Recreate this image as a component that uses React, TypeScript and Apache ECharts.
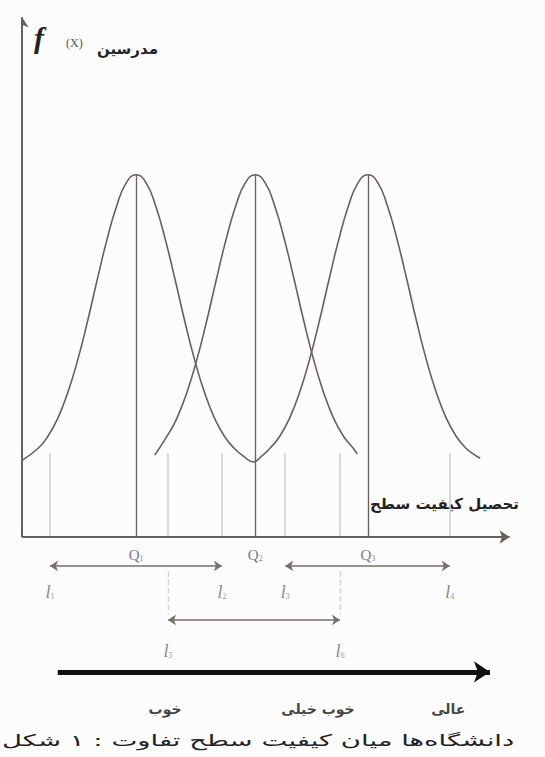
import React, { useEffect, useRef } from 'react';
import * as echarts from 'echarts';

// ---- data (abstract units: x = quality level 0..100, y = f(X) -40..100) ----
// Q1 and Q3 curves are drawn as one continuous wave that meets at the trough under Q2
const waveQ1Q3: [number, number][] = [
  [0, 14.6], [3.3, 16.9], [5.3, 19.2], [7.3, 22.6], [9.3, 27.4], [11.3, 33.5], [13.3, 40.8],
  [15.3, 48.8], [17.3, 56.5], [19.3, 63.0], [21.3, 67.5], [23.3, 69.0], [25.3, 67.5], [27.3, 63.0],
  [29.3, 56.5], [31.3, 48.8], [33.3, 40.8], [35.3, 33.5], [37.3, 27.4], [39.3, 22.6], [41.3, 19.2],
  [43.3, 16.9], [45.3, 15.3], [47.2, 14.3], [48.8, 15.3], [50.6, 16.9], [52.6, 19.2], [54.6, 22.6],
  [56.6, 27.4], [58.6, 33.5], [60.6, 40.8], [62.6, 48.8], [64.6, 56.5], [66.6, 63.0], [68.6, 67.5],
  [70.6, 69.0], [72.6, 67.5], [74.6, 63.0], [76.6, 56.5], [78.6, 48.8], [80.6, 40.8], [82.6, 33.5],
  [84.6, 27.4], [86.6, 22.6], [88.6, 19.2], [90.6, 16.9], [92.6, 15.5], [93.5, 15.0],
];
const curveQ2: [number, number][] = [
  [27.1, 15.6], [29.6, 19.2], [31.6, 22.6], [33.6, 27.4], [35.6, 33.5], [37.6, 40.8], [39.6, 48.8],
  [41.6, 56.5], [43.6, 63.0], [45.6, 67.5], [47.6, 69.0], [49.6, 67.5], [51.6, 63.0], [53.6, 56.5],
  [55.6, 48.8], [57.6, 40.8], [59.6, 33.5], [61.6, 27.4], [63.6, 22.6], [65.6, 19.2], [67.6, 16.9],
  [68.4, 15.8],
];
const qMeans = [23.3, 47.6, 70.6];
const qPeaks = [69, 69, 69];
const qNames = ['1', '2', '3'];
const lBounds = [5.7, 40.8, 53.7, 87.3, 29.8, 64.9];
const lNames = ['1', '2', '3', '4', '5', '6'];
const curveBase = 16;
const rangePairs: [number, number][] = [[0, 1], [2, 3], [4, 5]];
// words are listed in the left-to-right order in which the figure prints them
const qualityLevels = [['خوب'], ['خیلی', 'خوب'], ['عالی']];
const qualityPos = [29.2, 60.4, 87.0];
const axisTitleY = 'مدرسین';
const axisTitleX = ['سطح', 'کیفیت', 'تحصیل'];
const caption = ['شکل', '۱', ':', 'تفاوت', 'سطح', 'کیفیت', 'میان', 'دانشگاه‌ها'];

// each word is its own rich-text token, so the words keep the printed left-to-right order
const wordTokens = (w: string[], style: string) => w.map((x) => `{${style}|${x}}`).join(' ');

// ---- layout / styles ----
const LINE = '#6b5e5b';
const LIGHT = '#d6cfcf';
const FA = '"DejaVu Sans", sans-serif';
const SERIF = '"Liberation Serif", "DejaVu Serif", serif';
const ROW1 = -5.5;
const ROW2 = -15.8;
const BIG = -25.7;

function buildOption() {
  const darkVerticals = qMeans.map((x, i) => ({ coords: [[x, 0], [x, qPeaks[i]]] }));
  const lightVerticals = lBounds.map((x) => ({ coords: [[x, 0], [x, curveBase]] }));
  const rowArrows = rangePairs.map(([a, b], i) => {
    const y = i < 2 ? ROW1 : ROW2;
    return { coords: [[lBounds[a], y], [lBounds[b], y]] };
  });
  const dashed = [lBounds[4], lBounds[5]].map((x) => ({ coords: [[x, ROW1 - 1], [x, ROW2 + 1]] }));

  const qLabelData = qMeans.map((x, i) => [x, -3.4, qNames[i]]);
  const lLabelData = lBounds.map((x, i) => [x, i < 4 ? -10.4 : -21.7, lNames[i]]);
  const qualData = qualityLevels.map((t, i) => [qualityPos[i], -32.8, wordTokens(t, 'b')]);

  const baseLines = {
    type: 'lines',
    coordinateSystem: 'cartesian2d',
    silent: true,
    animation: false,
  };
  const textSeries = {
    type: 'scatter',
    symbolSize: 1,
    itemStyle: { color: 'rgba(0,0,0,0)' },
    silent: true,
    animation: false,
  };

  return {
    animation: false,
    backgroundColor: '#fcfcfc',
    grid: { left: 22, right: 33, top: 12, bottom: 10 },
    xAxis: { type: 'value', min: 0, max: 100, show: false },
    yAxis: { type: 'value', min: -40, max: 100, show: false },
    series: [
      {
        type: 'line', data: waveQ1Q3, smooth: true, showSymbol: false, silent: true,
        lineStyle: { color: LINE, width: 1.6 },
      },
      {
        type: 'line', data: curveQ2, smooth: true, showSymbol: false, silent: true,
        lineStyle: { color: LINE, width: 1.6 },
      },
      { ...baseLines, data: lightVerticals, lineStyle: { color: LIGHT, width: 1.6, opacity: 1 } },
      { ...baseLines, data: darkVerticals, lineStyle: { color: LINE, width: 1.3, opacity: 1 } },
      {
        ...baseLines, data: dashed,
        lineStyle: { color: LIGHT, width: 1.4, type: 'dashed', opacity: 1 },
      },
      {
        ...baseLines,
        data: [{ coords: [[0, 0], [0, 99]] }, { coords: [[0, 0], [99.5, 0]] }],
        symbol: ['none', 'arrow'], symbolSize: 10,
        lineStyle: { color: LINE, width: 2, opacity: 1 },
      },
      {
        ...baseLines, data: rowArrows,
        symbol: ['arrow', 'arrow'], symbolSize: 8,
        lineStyle: { color: '#7a6e6b', width: 1.6, opacity: 1 },
      },
      {
        ...baseLines, data: [{ coords: [[7.3, BIG], [95.5, BIG]] }],
        symbol: ['none', 'arrow'], symbolSize: 16,
        lineStyle: { color: '#111', width: 5, opacity: 1 },
      },
      {
        ...textSeries, data: qLabelData,
        label: {
          show: true, position: 'inside', formatter: (p: any) => `{q|Q}{s|${p.data[2]}}`,
          rich: {
            q: { fontFamily: SERIF, fontSize: 15, color: '#555' },
            s: { fontFamily: SERIF, fontSize: 8, color: '#666', padding: [7, 0, 0, 0] },
          },
        },
      },
      {
        ...textSeries, data: lLabelData,
        label: {
          show: true, position: 'inside', formatter: (p: any) => `{l|l}{s|${p.data[2]}}`,
          rich: {
            l: { fontFamily: SERIF, fontStyle: 'italic', fontSize: 18, color: '#666' },
            s: { fontFamily: SERIF, fontSize: 8, color: '#777', padding: [9, 0, 0, 0] },
          },
        },
      },
      {
        ...textSeries, data: qualData,
        label: {
          show: true, position: 'inside', formatter: (p: any) => p.data[2],
          fontFamily: FA, fontWeight: 'bold', fontSize: 14, color: '#111',
          rich: { b: { fontFamily: FA, fontWeight: 'bold', fontSize: 14, color: '#111' } },
        },
      },
    ],
    graphic: [
      {
        type: 'text', x: 34, y: 22,
        style: { text: 'f', font: `italic bold 30px ${SERIF}`, fill: '#222' },
      },
      {
        type: 'text', x: 66, y: 37,
        style: { text: '(X)', font: `12px ${SERIF}`, fill: '#555' },
      },
      {
        type: 'text', x: 97, y: 41,
        style: { text: axisTitleY, font: `bold 15px ${FA}`, fill: '#222' },
      },
      {
        type: 'text', x: 370, y: 496,
        style: {
          text: wordTokens(axisTitleX, 'w'), font: `bold 15px ${FA}`, fill: '#222',
          rich: { w: { fontFamily: FA, fontWeight: 'bold', fontSize: 15, fill: '#222' } },
        },
      },
      {
        type: 'text', x: 2, y: 740, scaleX: 1.72,
        style: {
          text: wordTokens(caption, 'w'), font: `16px ${FA}`, fill: '#222',
          verticalAlign: 'middle',
          rich: { w: { fontFamily: FA, fontSize: 16, fill: '#222' } },
        },
      },
    ],
  };
}

export default function App() {
  const ref = useRef<HTMLDivElement>(null);
  useEffect(() => {
    if (!ref.current) return;
    const chart = echarts.init(ref.current, undefined, { renderer: 'svg' });
    chart.setOption(buildOption() as any);
    return () => chart.dispose();
  }, []);
  return (
    <div
      ref={ref}
      style={{ position: 'fixed', left: 0, top: 0, width: 545, height: 757 }}
    />
  );
}
